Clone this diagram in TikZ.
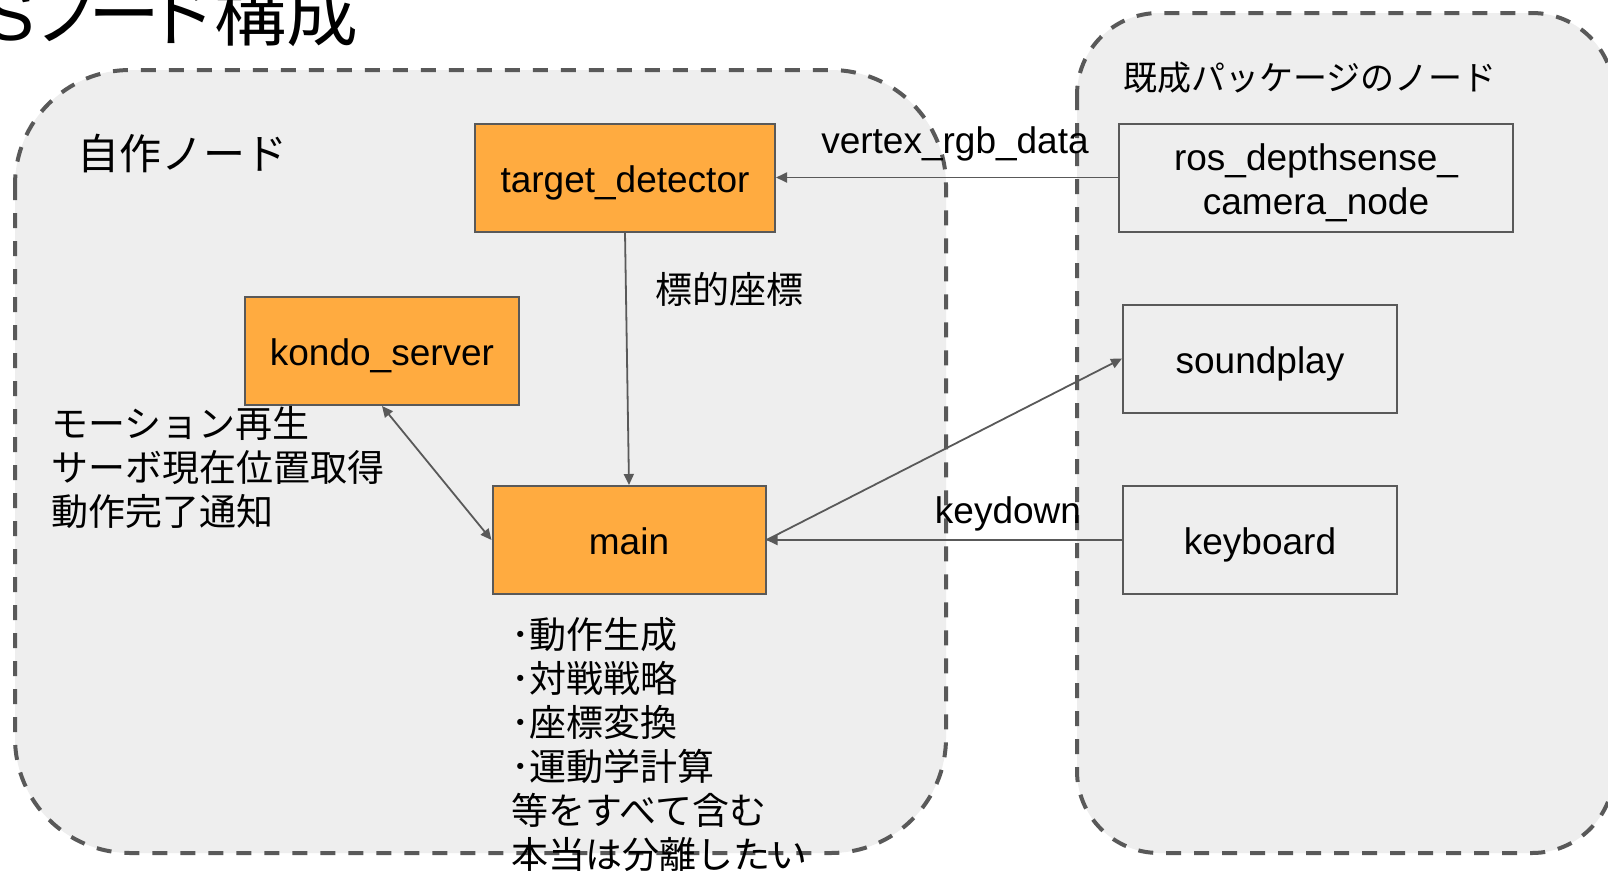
\documentclass[tikz,border=0pt]{standalone}
\usepackage{fontspec}
\setmainfont{Liberation Sans}
\newfontfamily\jp{Noto Sans CJK JP}
\usetikzlibrary{arrows.meta}
\definecolor{boxorange}{HTML}{FFAB40}
\definecolor{linegray}{HTML}{595959}
\definecolor{groupfill}{HTML}{EEEEEE}
\begin{document}
\begin{tikzpicture}[x=1pt,y=-1pt,
  group/.style={draw=linegray, fill=groupfill, line width=4pt, dash pattern=on 15pt off 13pt},
  procbox/.style={draw=linegray, fill=boxorange, line width=2pt, inner sep=0pt,
    text height=37pt, text depth=7.8pt,
    minimum width=#1, minimum height=108pt, font=\fontsize{37}{44}\selectfont},
  extbox/.style={draw=linegray, line width=2pt, inner sep=0pt, align=center,
    text height=37pt, text depth=7.8pt,
    minimum width=#1, minimum height=108pt, font=\fontsize{37}{44}\selectfont},
  conn/.style={draw=linegray, line width=1.8pt, -{Triangle[length=11pt,width=10pt]}},
  lbl/.style={inner sep=0pt, font=\fontsize{37}{44}\selectfont},
  jlbl/.style={inner sep=0pt, align=left, font=\jp\fontsize{#1}{44}\selectfont},
]
\useasboundingbox (0,0) rectangle (1608,871);
\clip (0,0) rectangle (1608,871);
\fill[white] (0,0) rectangle (1608,871);

% groups
\draw[group, rounded corners=115pt] (15,70) rectangle (946,853);
\draw[group, rounded corners=82pt] (1077,13) rectangle (1614,853);

% title
\node[inner sep=0pt, anchor=base west, font=\fontsize{72}{80}\selectfont] (title) at (-122,40)
  {ROS\jp ノ\kern-18pt ー\kern-14pt ド\kern-4pt 構成};

% group labels
\node[jlbl=42, anchor=west] (own) at (77,154) {自作ノード};
\node[jlbl=34, anchor=west] (pkg) at (1123,78) {既成パッケージのノード};

% nodes
\node[procbox=300pt] (td) at (625,177.5) {target\_detector};
\node[procbox=274pt] (kondo) at (382,351) {kondo\_server};
\node[procbox=273pt] (main) at (629,540) {main};
\node[extbox=394pt, text height=81pt] (ros) at (1316,177.5) {ros\_depthsense\_\\camera\_node};
\node[extbox=274pt] (sp) at (1260,358.5) {soundplay};
\node[extbox=274pt] (kb) at (1260,540) {keyboard};

% descriptive texts
\node[jlbl=37, anchor=west] (kondodesc) at (51,468)
  {モーション再生\\サーボ現在位置取得\\動作完了通知};
\node[jlbl=37, anchor=west] (maindesc) at (511,745)
  {･動作生成\\･対戦戦略\\･座標変換\\･運動学計算\\等をすべて含む\\本当は分離したい};

% connectors
\draw[conn] (ros.west) -- (td.east);
\draw[conn] (td.south) -- (main.north);
\draw[conn, {Triangle[length=11pt,width=10pt]}-{Triangle[length=11pt,width=10pt]}] (kondo.south) -- (main.west);
\draw[conn] (kb.west) -- (main.east);
\draw[conn] (main.east) -- (sp.west);

% connector labels
\node[lbl, anchor=base] (vrgb) at (955,153) {vertex\_rgb\_data};
\node[jlbl=37, anchor=center] (target) at (729,289) {標的座標};
\node[lbl, anchor=base] (kd) at (1008,523) {keydown};
\end{tikzpicture}
\end{document}
